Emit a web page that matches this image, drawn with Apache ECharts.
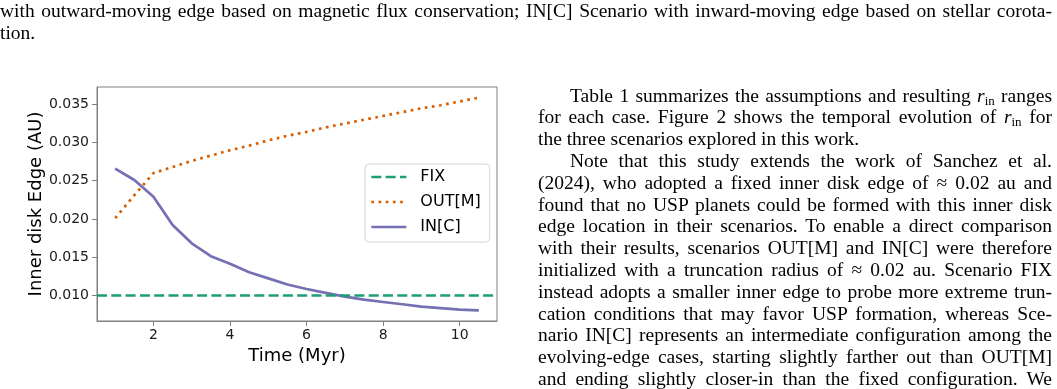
<!DOCTYPE html>
<html>
<head>
<meta charset="utf-8">
<script src="https://cdn.jsdelivr.net/npm/echarts@6/dist/echarts.min.js"></script>
<style>
  html, body { margin: 0; padding: 0; background: #fff; }
  #page { position: relative; width: 1057px; height: 389px; overflow: hidden; }
  #chart { position: absolute; left: 0; top: 0; width: 1057px; height: 389px; }
  .ln {
    position: absolute;
    font-family: 'Liberation Serif', 'DejaVu Serif', serif;
    font-size: 19.5px;
    line-height: 21.5px;
    color: #000;
    text-align: justify;
    text-align-last: justify;
  }
  .ln.last { text-align: left; text-align-last: left; }
  .ln sub { font-size: 13px; line-height: 0; vertical-align: -3px; }
</style>
</head>
<body>
<div id="page">
  <div id="chart"></div>

  <div class="ln" style="left:0;top:0;width:1052px">with outward-moving edge based on magnetic flux conservation; IN[C] Scenario with inward-moving edge based on stellar corota-</div>
  <div class="ln last" style="left:0;top:21.5px;width:1052px">tion.</div>

  <div class="ln" style="left:570px;top:84.5px;width:482px">Table 1 summarizes the assumptions and resulting <i>r</i><sub>in</sub> ranges</div>
  <div class="ln" style="left:538px;top:106.3px;width:514px">for each case. Figure 2 shows the temporal evolution of <i>r</i><sub>in</sub> for</div>
  <div class="ln last" style="left:538px;top:128.1px;width:514px">the three scenarios explored in this work.</div>
  <div class="ln" style="left:570px;top:149.9px;width:482px">Note that this study extends the work of Sanchez et al.</div>
  <div class="ln" style="left:538px;top:171.7px;width:514px">(2024), who adopted a fixed inner disk edge of ≈ 0.02 au and</div>
  <div class="ln" style="left:538px;top:193.5px;width:514px">found that no USP planets could be formed with this inner disk</div>
  <div class="ln" style="left:538px;top:215.3px;width:514px">edge location in their scenarios. To enable a direct comparison</div>
  <div class="ln" style="left:538px;top:237.1px;width:514px">with their results, scenarios OUT[M] and IN[C] were therefore</div>
  <div class="ln" style="left:538px;top:258.9px;width:514px">initialized with a truncation radius of ≈ 0.02 au. Scenario FIX</div>
  <div class="ln" style="left:538px;top:280.7px;width:514px">instead adopts a smaller inner edge to probe more extreme trun-</div>
  <div class="ln" style="left:538px;top:302.5px;width:514px">cation conditions that may favor USP formation, whereas Sce-</div>
  <div class="ln" style="left:538px;top:324.3px;width:514px">nario IN[C] represents an intermediate configuration among the</div>
  <div class="ln" style="left:538px;top:346.1px;width:514px">evolving-edge cases, starting slightly farther out than OUT[M]</div>
  <div class="ln" style="left:538px;top:367.9px;width:514px">and ending slightly closer-in than the fixed configuration. We</div>
</div>

<script>
// data (time in Myr, inner edge in AU)
var timeMyr = [1, 1.5, 2, 2.5, 3, 3.5, 4, 4.5, 5, 5.5, 6, 6.5, 7, 7.5, 8, 8.5, 9, 9.5, 10, 10.5];
var outM = [0.0201, 0.0231, 0.0260, 0.0268, 0.0276, 0.0283, 0.0290, 0.0296, 0.0303, 0.0309,
            0.0314, 0.0320, 0.0325, 0.0330, 0.0335, 0.0340, 0.0345, 0.0349, 0.0354, 0.0359];
var inC = [0.0266, 0.0251, 0.0229, 0.0192, 0.0168, 0.0151, 0.0141, 0.0130, 0.0122, 0.0114,
           0.0108, 0.0103, 0.0098, 0.0094, 0.0091, 0.0088, 0.0085, 0.0083, 0.0081, 0.0080];
var fixEdge = 0.010;
var seriesNames = ['FIX', 'OUT[M]', 'IN[C]'];
var xTicks = [2, 4, 6, 8, 10];
var yTicks = [0.010, 0.015, 0.020, 0.025, 0.030, 0.035];

var colors = ['#1b9e77', '#d95f02', '#7570b3'];
var lw = 2.7;
var font = 'DejaVu Sans';

// matplotlib style 5% margins
function padRange(lo, hi) {
    var p = (hi - lo) * 0.05;
    return [lo - p, hi + p];
}
var xr = padRange(Math.min.apply(null, timeMyr), Math.max.apply(null, timeMyr));
var allY = outM.concat(inC).concat([fixEdge]);
var yr = padRange(Math.min.apply(null, allY), Math.max.apply(null, allY));

function pairs(xs, ys) {
    return xs.map(function (x, i) { return [x, ys[i]]; });
}

var chart = echarts.init(document.getElementById('chart'), null, { renderer: 'canvas' });
var spine = '#808080';

var option = {
    animation: false,
    backgroundColor: '#ffffff',
    grid: {
        left: 97, top: 87, width: 400, height: 234,
        show: true, borderColor: spine, borderWidth: 1, backgroundColor: 'transparent'
    },
    legend: {
        orient: 'vertical',
        left: 365, top: 164,
        padding: [4, 9, 6, 5],
        itemWidth: 35, itemHeight: 14, itemGap: 7,
        backgroundColor: 'rgba(255,255,255,0.8)',
        borderColor: '#d4d4d4', borderWidth: 1, borderRadius: 4,
        itemStyle: { opacity: 0 },
        lineStyle: { width: lw },
        textStyle: { fontFamily: font, fontSize: 16, color: '#000', lineHeight: 18, padding: [0, 0, 0, 9] },
        data: seriesNames
    },
    xAxis: {
        type: 'value',
        min: xr[0], max: xr[1],
        name: 'Time (Myr)',
        nameLocation: 'middle',
        nameGap: 22,
        nameTextStyle: { fontFamily: font, fontSize: 18, color: '#000' },
        splitLine: { show: false },
        axisLine: { show: true, lineStyle: { color: spine, width: 1 } },
        axisTick: { show: true, length: 5, lineStyle: { color: spine }, customValues: xTicks },
        axisLabel: {
            fontFamily: font, fontSize: 14, color: '#1a1a1a', margin: 7,
            customValues: xTicks,
            formatter: function (v) { return String(v); }
        }
    },
    yAxis: {
        type: 'value',
        min: yr[0], max: yr[1],
        name: 'Inner disk Edge (AU)',
        nameLocation: 'middle',
        nameRotate: 90,
        nameGap: 50,
        nameTextStyle: { fontFamily: font, fontSize: 18, color: '#000' },
        splitLine: { show: false },
        axisLine: { show: true, lineStyle: { color: spine, width: 1 } },
        axisTick: { show: true, length: 5, lineStyle: { color: spine }, customValues: yTicks },
        axisLabel: {
            fontFamily: font, fontSize: 14, color: '#1a1a1a', margin: 8,
            customValues: yTicks,
            formatter: function (v) { return v.toFixed(3); }
        }
    },
    series: [
        {
            name: seriesNames[0],
            type: 'line',
            data: [],
            symbol: 'none',
            color: colors[0],
            lineStyle: { color: colors[0], width: lw, type: [10, 4.3] },
            markLine: {
                silent: true,
                symbol: 'none',
                label: { show: false },
                lineStyle: { color: colors[0], width: lw, type: [10, 4.3] },
                data: [{ yAxis: fixEdge }]
            }
        },
        {
            name: seriesNames[1],
            type: 'line',
            data: pairs(timeMyr, outM),
            symbol: 'none',
            color: colors[1],
            lineStyle: { color: colors[1], width: lw, type: [2.7, 4.5] }
        },
        {
            name: seriesNames[2],
            type: 'line',
            data: pairs(timeMyr, inC),
            symbol: 'none',
            color: colors[2],
            lineStyle: { color: colors[2], width: lw, type: 'solid' }
        }
    ]
};
chart.setOption(option);
</script>
</body>
</html>
